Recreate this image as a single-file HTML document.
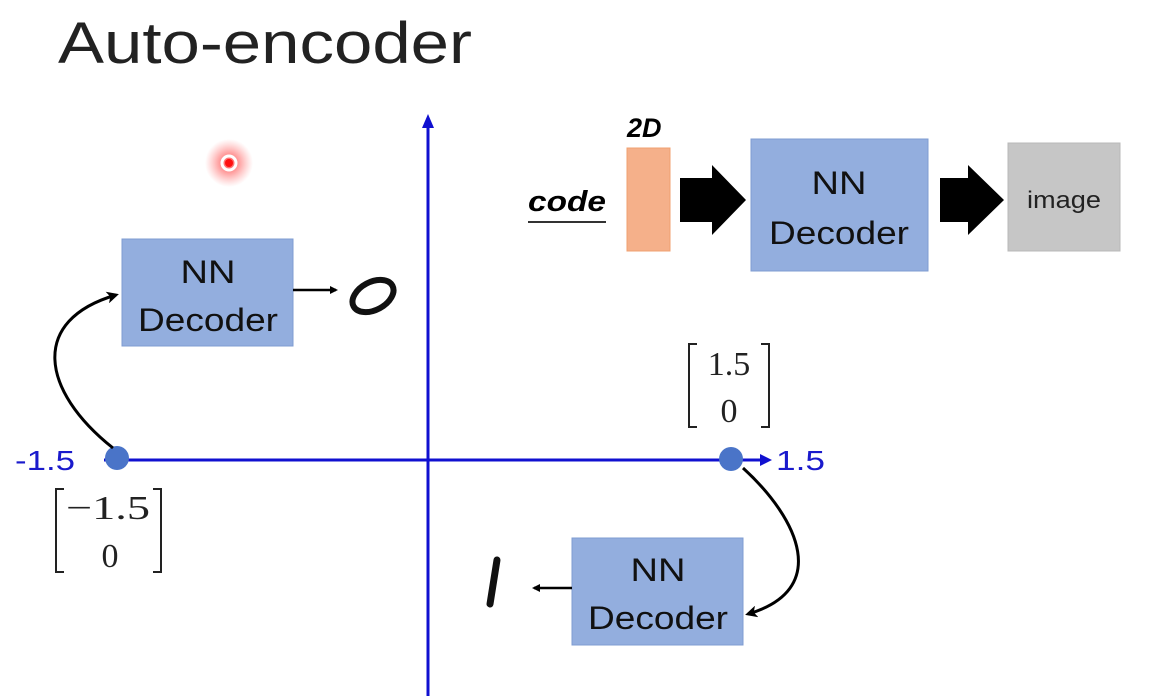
<!DOCTYPE html>
<html><head><meta charset="utf-8"><style>
html,body{margin:0;padding:0;background:#fff;}
svg{display:block;}
text{font-family:"Liberation Sans",sans-serif;}
.s{font-family:"Liberation Serif",serif;}
</style></head><body>
<svg width="1151" height="696" viewBox="0 0 1151 696" xmlns="http://www.w3.org/2000/svg">
<defs>
<marker id="ah" markerWidth="8" markerHeight="8" refX="6" refY="4" orient="auto" markerUnits="userSpaceOnUse"><path d="M0,0 L8,4 L0,8 Z" fill="#000"/></marker>
<marker id="ah2" markerWidth="12" markerHeight="12" refX="9" refY="6" orient="auto" markerUnits="userSpaceOnUse"><path d="M0,0 L12,6 L0,12 L3,6 Z" fill="#000"/></marker>
<radialGradient id="glow"><stop offset="0" stop-color="#ff3030" stop-opacity="0.9"/><stop offset="0.5" stop-color="#ff6060" stop-opacity="0.5"/><stop offset="1" stop-color="#ff8080" stop-opacity="0"/></radialGradient>
</defs>
<text x="58" y="63" font-size="58" fill="#222" textLength="414" lengthAdjust="spacingAndGlyphs">Auto-encoder</text>
<circle cx="229" cy="163" r="24" fill="url(#glow)"/>
<circle cx="229" cy="163" r="7" fill="none" stroke="#fff" stroke-width="3"/>
<circle cx="229" cy="163" r="4" fill="#ff1010"/>
<line x1="428" y1="124" x2="428" y2="696" stroke="#1010d0" stroke-width="3"/>
<path d="M428,114 L422,128 L434,128 Z" fill="#1010d0"/>
<line x1="104" y1="460" x2="762" y2="460" stroke="#1010d0" stroke-width="3"/>
<path d="M772,460 L760,454 L760,466 Z" fill="#1010d0"/>
<text x="15" y="470" font-size="28" fill="#1a1acc" textLength="60" lengthAdjust="spacingAndGlyphs">-1.5</text>
<text x="776" y="470" font-size="28" fill="#1a1acc" textLength="49" lengthAdjust="spacingAndGlyphs">1.5</text>
<circle cx="117" cy="458" r="12" fill="#4a74c8"/>
<circle cx="731" cy="459" r="12" fill="#4a74c8"/>
<text x="627" y="137" font-size="27" font-weight="bold" font-style="italic" fill="#000">2D</text>
<rect x="627" y="148" width="43" height="103" fill="#f5b08a" stroke="#f0a070"/>
<text x="528" y="211" font-size="29" font-weight="bold" font-style="italic" fill="#000" textLength="78" lengthAdjust="spacingAndGlyphs">code</text>
<line x1="528" y1="222" x2="606" y2="222" stroke="#333" stroke-width="2"/>
<path d="M680,178 L712,178 L712,165 L746,200 L712,235 L712,222 L680,222 Z" fill="#000"/>
<rect x="751" y="139" width="177" height="132" fill="#93aede" stroke="#7f9cd2"/>
<text x="839" y="194" font-size="32" text-anchor="middle" fill="#111" textLength="55" lengthAdjust="spacingAndGlyphs">NN</text>
<text x="839" y="244" font-size="32" text-anchor="middle" fill="#111" textLength="140" lengthAdjust="spacingAndGlyphs">Decoder</text>
<path d="M940,178 L968,178 L968,165 L1004,200 L968,235 L968,222 L940,222 Z" fill="#000"/>
<rect x="1008" y="143" width="112" height="108" fill="#c6c6c6" stroke="#b8b8b8"/>
<text x="1064" y="208" font-size="24" text-anchor="middle" fill="#222" textLength="74" lengthAdjust="spacingAndGlyphs">image</text>
<rect x="122" y="239" width="171" height="107" fill="#93aede" stroke="#7f9cd2"/>
<text x="208" y="283" font-size="32" text-anchor="middle" fill="#111" textLength="55" lengthAdjust="spacingAndGlyphs">NN</text>
<text x="208" y="331" font-size="32" text-anchor="middle" fill="#111" textLength="140" lengthAdjust="spacingAndGlyphs">Decoder</text>
<line x1="293" y1="290" x2="336" y2="290" stroke="#000" stroke-width="2.5" marker-end="url(#ah)"/>
<ellipse cx="373" cy="296" rx="22" ry="14" transform="rotate(-28 373 296)" fill="none" stroke="#111" stroke-width="6"/>
<path d="M113,448 C40,390 30,320 116,295" fill="none" stroke="#000" stroke-width="3" marker-end="url(#ah2)"/>
<path d="M64,489 L56,489 L56,572 L64,572" fill="none" stroke="#222" stroke-width="2"/>
<path d="M153,489 L161,489 L161,572 L153,572" fill="none" stroke="#222" stroke-width="2"/>
<text x="66" y="519" font-size="34" class="s" fill="#222" textLength="84" lengthAdjust="spacingAndGlyphs">−1.5</text>
<text x="110" y="567" font-size="34" text-anchor="middle" class="s" fill="#222">0</text>
<path d="M697,344 L689,344 L689,427 L697,427" fill="none" stroke="#222" stroke-width="2"/>
<path d="M761,344 L769,344 L769,427 L761,427" fill="none" stroke="#222" stroke-width="2"/>
<text x="729" y="375" font-size="34" text-anchor="middle" class="s" fill="#222">1.5</text>
<text x="729" y="422" font-size="34" text-anchor="middle" class="s" fill="#222">0</text>
<rect x="572" y="538" width="171" height="107" fill="#93aede" stroke="#7f9cd2"/>
<text x="658" y="581" font-size="32" text-anchor="middle" fill="#111" textLength="55" lengthAdjust="spacingAndGlyphs">NN</text>
<text x="658" y="629" font-size="32" text-anchor="middle" fill="#111" textLength="140" lengthAdjust="spacingAndGlyphs">Decoder</text>
<line x1="572" y1="588" x2="534" y2="588" stroke="#000" stroke-width="2.5" marker-end="url(#ah)"/>
<path d="M497,560 L490,604" stroke="#111" stroke-width="7" stroke-linecap="round"/>
<path d="M743,468 C800,520 830,590 748,614" fill="none" stroke="#000" stroke-width="3" marker-end="url(#ah2)"/>
</svg>
</body></html>
